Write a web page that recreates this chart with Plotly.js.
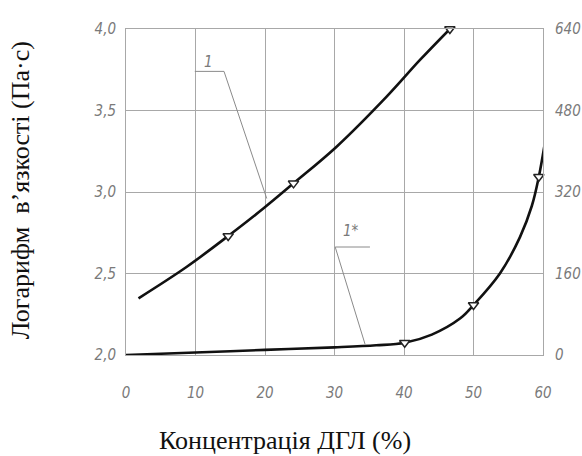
<!DOCTYPE html>
<html>
<head>
<meta charset="utf-8">
<script src="https://cdn.plot.ly/plotly-3.0.1.min.js"></script>
<style>html,body{margin:0;padding:0;background:#fff}#chart{width:582px;height:456px}</style>
</head>
<body>
<div id="chart"></div>
<script>
// Curve 1: log of viscosity (left axis)
const conc1 = [1.8, 8.7, 14.7, 19.8, 24.1, 30.3, 37.5, 42.3, 46.6];
const logVisc1 = [2.348, 2.54, 2.73, 2.90, 3.053, 3.278, 3.585, 3.81, 4.0];
const markConc1 = [14.7, 24.1, 46.6];
const markLog1 = [2.73, 3.053, 4.0];
// Curve 1*: viscosity (right axis)
const conc2 = [0, 10, 20, 30, 36, 40.1, 44, 48.1, 50, 53.8, 56.7, 58.4, 59.4, 60.3];
const visc2 = [0, 5, 10, 15, 19, 24, 40, 72, 98, 160, 232, 293, 350, 419];
const markConc2 = [40.1, 50, 59.4];
const markVisc2 = [24, 98, 350];
// Ticks
const xTicks = [0, 10, 20, 30, 40, 50, 60];
const yLeftTicks = [2.0, 2.5, 3.0, 3.5, 4.0];
const yLeftLabels = ["2,0", "2,5", "3,0", "3,5", "4,0"];
const yRightTicks = [0, 160, 320, 480, 640];
const yRightLabels = ["0", "160", "320", "480", "640"];
const xTitle = "Концентрація ДГЛ (%)";
const yTitle = "Логарифм  в’язкості (Па·с)";
const label1 = "1";
const label2 = "1*";

const tickFont = {family: "Liberation Sans Narrow, DejaVu Sans Condensed, DejaVu Sans", size: 15, color: "#7a7a7a", style: "italic"};
const titleFont = {family: "'Liberation Serif', 'DejaVu Serif', serif", size: 26, color: "#111"};

const traces = [
  {x: conc1, y: logVisc1, mode: "lines", line: {color: "#111", width: 2.6, shape: "spline", smoothing: 1}, yaxis: "y", hoverinfo: "skip"},
  {x: markConc1, y: markLog1, mode: "markers", cliponaxis: false, marker: {symbol: "triangle-down", size: 9, color: "#fff", line: {color: "#222", width: 1.5}}, yaxis: "y", hoverinfo: "skip"},
  {x: conc2, y: visc2, mode: "lines", cliponaxis: false, line: {color: "#111", width: 2.6, shape: "spline", smoothing: 1}, yaxis: "y2", hoverinfo: "skip"},
  {x: markConc2, y: markVisc2, mode: "markers", cliponaxis: false, marker: {symbol: "triangle-down", size: 9, color: "#fff", line: {color: "#222", width: 1.5}}, yaxis: "y2", hoverinfo: "skip"}
];

const layout = {
  width: 582, height: 456,
  margin: {l: 126, r: 39, t: 29, b: 101},
  paper_bgcolor: "#fff", plot_bgcolor: "#fff",
  showlegend: false,
  xaxis: {
    range: [0, 60], tickvals: xTicks, ticktext: xTicks.map(String),
    showgrid: true, gridcolor: "#a8a8a8", gridwidth: 1,
    zeroline: false, showline: true, linecolor: "#a8a8a8", mirror: true,
    ticks: "outside", ticklen: 24, tickcolor: "rgba(0,0,0,0)",
    tickfont: tickFont
  },
  yaxis: {
    range: [2.0, 4.0], tickvals: yLeftTicks, ticktext: yLeftLabels,
    showgrid: true, gridcolor: "#a8a8a8", gridwidth: 1,
    zeroline: false, showline: true, linecolor: "#a8a8a8", mirror: true,
    ticks: "outside", ticklen: 6, tickcolor: "rgba(0,0,0,0)",
    tickfont: tickFont
  },
  yaxis2: {
    range: [0, 640], tickvals: yRightTicks, ticktext: yRightLabels,
    overlaying: "y", side: "right", showgrid: false, zeroline: false,
    ticks: "outside", ticklen: 8, tickcolor: "rgba(0,0,0,0)",
    tickfont: tickFont
  },
  shapes: [
    {type: "line", xref: "x", yref: "y", x0: 9.9, y0: 3.74, x1: 14.1, y1: 3.74, line: {color: "#8a8a8a", width: 1}},
    {type: "line", xref: "x", yref: "y", x0: 14.1, y0: 3.74, x1: 20.25, y1: 2.96, line: {color: "#8a8a8a", width: 1}},
    {type: "line", xref: "x", yref: "y2", x0: 30.1, y0: 212, x1: 35.1, y1: 212, line: {color: "#8a8a8a", width: 1}},
    {type: "line", xref: "x", yref: "y2", x0: 30.1, y0: 212, x1: 34.4, y1: 21, line: {color: "#8a8a8a", width: 1}}
  ],
  annotations: [
    {text: label1, xref: "x", yref: "y", x: 11.9, y: 3.80, showarrow: false, font: tickFont},
    {text: label2, xref: "x", yref: "y2", x: 32.4, y: 243, showarrow: false, font: tickFont},
    {text: xTitle, xref: "paper", yref: "paper", x: 0.381, y: -0.261, xanchor: "center", yanchor: "middle", showarrow: false, font: titleFont},
    {text: yTitle, xref: "paper", yref: "paper", x: -0.254, y: 0.506, xanchor: "center", yanchor: "middle", textangle: -90, showarrow: false, font: titleFont}
  ]
};

Plotly.newPlot("chart", traces, layout, {displayModeBar: false, staticPlot: true});
</script>
</body>
</html>
